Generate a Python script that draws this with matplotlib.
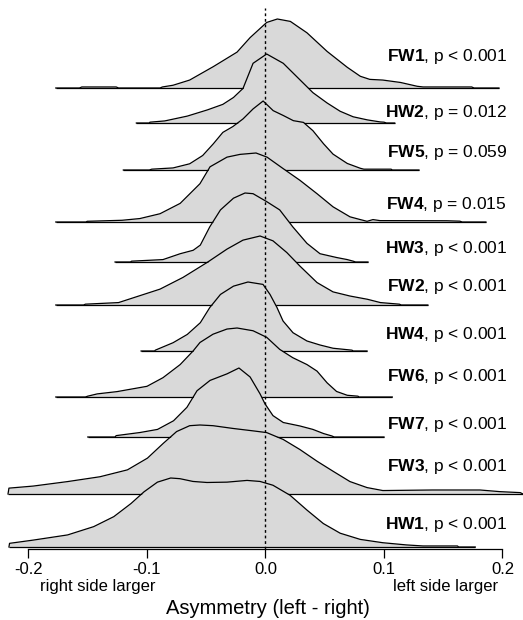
import matplotlib.pyplot as plt

plt.rcParams['font.family'] = ['Liberation Sans', 'DejaVu Sans']
plt.rcParams['mathtext.fontset'] = 'custom'
plt.rcParams['mathtext.rm'] = 'Liberation Sans'
plt.rcParams['mathtext.bf'] = 'Liberation Sans:bold'

# ridge names and p-value labels, top to bottom
names = ['FW1', 'HW2', 'FW5', 'FW4', 'HW3', 'FW2', 'HW4', 'FW6', 'FW7', 'FW3', 'HW1']
pvals = ['p < 0.001', 'p = 0.012', 'p = 0.059', 'p = 0.015', 'p < 0.001', 'p < 0.001',
         'p < 0.001', 'p < 0.001', 'p < 0.001', 'p < 0.001', 'p < 0.001']

# density profiles (x = asymmetry, h = density scaled to peak 1)
fw1_x = [-0.177, -0.157, -0.155, -0.126, -0.124, -0.089, -0.087, -0.078, -0.064, -0.044, -0.024,
         -0.013, 0.001, 0.010, 0.021, 0.035, 0.052, 0.069, 0.080, 0.088, 0.099, 0.114, 0.128,
         0.133, 0.174, 0.176, 0.197]
fw1_h = [0, 0, 0.015, 0.015, 0, 0, 0.015, 0.04, 0.115, 0.31, 0.52, 0.73, 0.95, 1.0, 0.965, 0.80,
         0.53, 0.30, 0.17, 0.125, 0.115, 0.08, 0.025, 0.015, 0.015, 0, 0]

hw2_x = [-0.109, -0.098, -0.0975, -0.085, -0.066, -0.049, -0.036, -0.027, -0.0215, -0.019, -0.0105,
         0.001, 0.015, 0.040, 0.052, 0.063, 0.074, 0.086, 0.097, 0.100, 0.102, 0.109]
hw2_h = [0, 0, 0.012, 0.03, 0.10, 0.19, 0.27, 0.37, 0.46, 0.50, 0.865, 1.0, 0.865, 0.44, 0.29,
         0.17, 0.09, 0.045, 0.015, 0.012, 0, 0]

fw5_x = [-0.120, -0.098, -0.096, -0.078, -0.064, -0.053, -0.044, -0.036, -0.0275, -0.019, -0.0105,
         -0.002, 0.0065, 0.015, 0.0235, 0.032, 0.040, 0.049, 0.057, 0.069, 0.080, 0.083, 0.106,
         0.107, 0.1295]
fw5_h = [0, 0, 0.012, 0.03, 0.09, 0.21, 0.38, 0.545, 0.63, 0.74, 0.885, 1.0, 0.86, 0.79, 0.715,
         0.69, 0.57, 0.38, 0.23, 0.095, 0.025, 0.012, 0.012, 0, 0]

fw4_x = [-0.177, -0.1515, -0.1505, -0.121, -0.106, -0.089, -0.072, -0.0553, -0.0468, -0.0325,
         -0.0215, -0.008, 0.0013, 0.0148, 0.029, 0.0435, 0.057, 0.0713, 0.080, 0.0857, 0.0907,
         0.0966, 0.153, 0.164, 0.166, 0.186]
fw4_h = [0, 0, 0.01, 0.025, 0.05, 0.12, 0.27, 0.555, 0.80, 0.94, 0.98, 1.0, 0.94, 0.775, 0.605,
         0.41, 0.22, 0.075, 0.035, 0.01, 0.035, 0.02, 0.018, 0.012, 0, 0]

hw3_x = [-0.127, -0.114, -0.113, -0.0865, -0.072, -0.061, -0.055, -0.047, -0.038, -0.027, -0.0173,
         -0.0105, 0.001, 0.012, 0.023, 0.035, 0.046, 0.060, 0.069, 0.074, 0.076, 0.0865]
hw3_h = [0, 0, 0.012, 0.035, 0.12, 0.17, 0.245, 0.51, 0.755, 0.925, 1.0, 0.99, 0.875, 0.755,
         0.51, 0.27, 0.12, 0.065, 0.035, 0.012, 0, 0]

fw2_x = [-0.177, -0.1535, -0.152, -0.124, -0.089, -0.0696, -0.0494, -0.0325, -0.019, -0.0046,
         0.0063, 0.018, 0.029, 0.0435, 0.057, 0.0713, 0.086, 0.097, 0.113, 0.1145, 0.137]
fw2_h = [0, 0, 0.012, 0.035, 0.23, 0.40, 0.615, 0.81, 0.94, 1.0, 0.93, 0.76, 0.565, 0.325, 0.19,
         0.13, 0.083, 0.035, 0.012, 0, 0]

hw4_x = [-0.105, -0.0935, -0.093, -0.078, -0.066, -0.055, -0.047, -0.038, -0.027, -0.0148,
         -0.0021, 0.0038, 0.0097, 0.0148, 0.0232, 0.035, 0.046, 0.057, 0.073, 0.074, 0.0857]
hw4_h = [0, 0, 0.012, 0.12, 0.24, 0.41, 0.63, 0.82, 0.94, 1.0, 0.965, 0.82, 0.63, 0.435, 0.265,
         0.145, 0.087, 0.04, 0.012, 0, 0]

fw6_x = [-0.177, -0.152, -0.150, -0.142, -0.1253, -0.100, -0.0865, -0.072, -0.0612, -0.0553,
         -0.0443, -0.0325, -0.024, -0.0105, 0.001, 0.012, 0.023, 0.035, 0.0435, 0.052, 0.060,
         0.069, 0.078, 0.079, 0.107]
fw6_h = [0, 0, 0.012, 0.045, 0.078, 0.155, 0.28, 0.47, 0.665, 0.79, 0.91, 0.985, 1.0, 0.96,
         0.865, 0.69, 0.57, 0.47, 0.375, 0.205, 0.08, 0.025, 0.012, 0, 0]

fw7_x = [-0.150, -0.127, -0.126, -0.1059, -0.0911, -0.0776, -0.0663, -0.0578, -0.0468, -0.0325,
         -0.0224, -0.013, -0.0046, -0.0004, 0.0063, 0.015, 0.029, 0.040, 0.049, 0.056, 0.058,
         0.100]
fw7_h = [0, 0, 0.02, 0.065, 0.11, 0.235, 0.43, 0.67, 0.82, 0.915, 1.0, 0.87, 0.625, 0.48, 0.31,
         0.21, 0.16, 0.11, 0.05, 0.015, 0, 0]

fw3_x = [-0.2173, -0.2165, -0.196, -0.167, -0.1397, -0.1165, -0.0996, -0.0862, -0.075, -0.064,
         -0.0553, -0.0443, -0.0274, -0.0105, 0.001, 0.015, 0.029, 0.0435, 0.057, 0.0713, 0.0857,
         0.099, 0.141, 0.181, 0.198, 0.215, 0.2173]
fw3_h = [0, 0.085, 0.115, 0.18, 0.25, 0.35, 0.52, 0.735, 0.905, 0.99, 1.0, 0.99, 0.95, 0.915,
         0.89, 0.79, 0.645, 0.475, 0.33, 0.18, 0.093, 0.05, 0.058, 0.058, 0.034, 0.02, 0]

hw1_x = [-0.2165, -0.216, -0.196, -0.167, -0.145, -0.128, -0.1135, -0.1025, -0.0912, -0.080,
         -0.0722, -0.0612, -0.0494, -0.0325, -0.0156, -0.0046, 0.0063, 0.0207, 0.035, 0.0488,
         0.063, 0.080, 0.099, 0.119, 0.133, 0.162, 0.163, 0.177]
hw1_h = [0, 0.053, 0.10, 0.175, 0.295, 0.44, 0.63, 0.80, 0.94, 1.0, 0.99, 0.95, 0.935, 0.94,
         0.965, 0.95, 0.895, 0.75, 0.535, 0.34, 0.20, 0.11, 0.062, 0.03, 0.015, 0.015, 0, 0]

profiles = [(fw1_x, fw1_h), (hw2_x, hw2_h), (fw5_x, fw5_h), (fw4_x, fw4_h), (hw3_x, hw3_h),
            (fw2_x, fw2_h), (hw4_x, hw4_h), (fw6_x, fw6_h), (fw7_x, fw7_h), (fw3_x, fw3_h),
            (hw1_x, hw1_h)]

# layout: baseline of each ridge and label height (in pixel-like units from the axis up)
baselines = [461, 426, 379, 327, 287, 244, 198, 152, 112, 55, 2]
label_y = [492, 437, 396, 344, 300, 262, 215, 173, 125, 82, 24]
ridge_height = 69

fig = plt.figure(figsize=(5.23, 6.2), dpi=100)
ax = fig.add_axes([0, 71 / 620, 1, 549 / 620])

for i, ((xs, hs), base) in enumerate(zip(profiles, baselines)):
    ys = [base + h * ridge_height for h in hs]
    z = 2 + i
    ax.fill_between(xs, base, ys, color='#d9d9d9', lw=0, zorder=z)
    ax.plot(xs, ys, color='black', lw=0.9, zorder=z + 0.2)
    ax.hlines(base, xs[0], xs[-1], color='black', lw=0.9, zorder=z + 0.1)

ax.plot([0, 0], [0, 541], color='black', lw=1, ls=(0, (2, 2)), zorder=30)

for name, p, ly in zip(names, pvals, label_y):
    ax.text(0.2038, ly, r'$\bf{' + name + '}$, ' + p, ha='right', va='center',
            fontsize=12.5, zorder=40)

ax.set_xlim(-0.22405, 0.2173)
ax.set_ylim(0, 549)
for s in ['left', 'right', 'top']:
    ax.spines[s].set_visible(False)
ax.spines['bottom'].set_bounds(-0.2, 0.2)
ax.spines['bottom'].set_linewidth(0.9)
ax.set_yticks([])
ax.set_xticks([-0.2, -0.1, 0.0, 0.1, 0.2])
ax.set_xticklabels(['-0.2', '-0.1', '0.0', '0.1', '0.2'])
ax.tick_params(axis='x', direction='out', length=6.5, width=0.9, labelsize=12, pad=2.5)
ax.patch.set_alpha(0)

fig.text(98 / 523, 1 - 587 / 620, 'right side larger', ha='center', va='center', fontsize=12)
fig.text(445.5 / 523, 1 - 587 / 620, 'left side larger', ha='center', va='center', fontsize=12)
fig.text(267.5 / 523, 1 - 609 / 620, 'Asymmetry (left - right)', ha='center', va='center',
         fontsize=14.5)

fig.savefig('out.png', dpi=100)
